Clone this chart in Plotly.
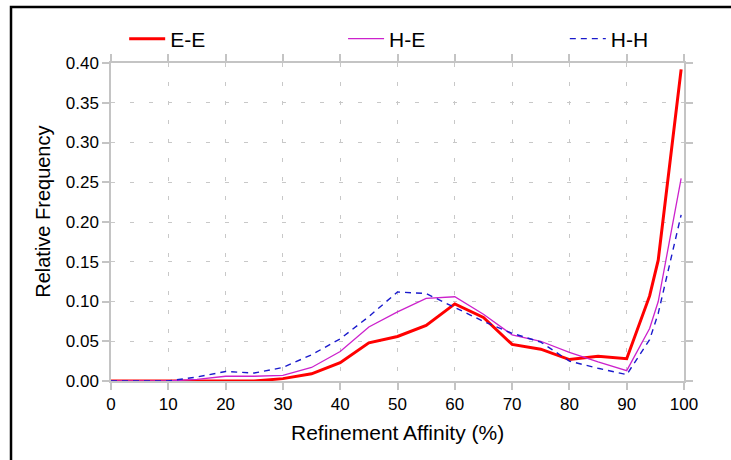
import plotly.graph_objects as go

affinity = [0, 5, 10, 15, 20, 25, 30, 35, 40, 45, 50, 55, 60, 65, 70, 75, 80, 85, 90, 94, 95.5, 99.5]
ee = [0, 0, 0, 0, 0, 0, 0.003, 0.009, 0.023, 0.048, 0.056, 0.070, 0.097, 0.080, 0.046, 0.040, 0.027, 0.031, 0.028, 0.107, 0.152, 0.392]
he = [0, 0, 0, 0.002, 0.006, 0.006, 0.007, 0.017, 0.037, 0.068, 0.087, 0.104, 0.106, 0.084, 0.058, 0.050, 0.036, 0.024, 0.013, 0.066, 0.100, 0.255]
hh = [0, 0, 0, 0.005, 0.012, 0.010, 0.017, 0.033, 0.053, 0.081, 0.112, 0.110, 0.093, 0.075, 0.060, 0.049, 0.025, 0.016, 0.008, 0.052, 0.085, 0.209]

x_ticks = [0, 10, 20, 30, 40, 50, 60, 70, 80, 90, 100]
y_ticks = [0.00, 0.05, 0.10, 0.15, 0.20, 0.25, 0.30, 0.35, 0.40]

FONT = "Liberation Sans, Arial, sans-serif"

fig = go.Figure()
fig.add_trace(go.Scatter(x=affinity, y=ee, mode="lines", name="E-E", legend="legend",
                         line=dict(color="#ff0000", width=3)))
fig.add_trace(go.Scatter(x=affinity, y=he, mode="lines", name="H-E", legend="legend2",
                         line=dict(color="#cc22cc", width=1.3)))
fig.add_trace(go.Scatter(x=affinity, y=hh, mode="lines", name="H-H", legend="legend3",
                         line=dict(color="#1a1acc", width=1.4, dash="6px,5px")))

axis_common = dict(
    showline=True, linecolor="#c4c4c4", linewidth=1.5, mirror="ticks",
    ticks="outside", ticklen=7, tickcolor="#c4c4c4", tickwidth=1.5,
    showgrid=True, gridcolor="#c8c8c8", gridwidth=1, griddash="4px,15px",
    zeroline=False, tickfont=dict(family=FONT, size=17, color="black"),
)

fig.update_xaxes(range=[0, 100], tickvals=x_ticks, ticktext=[str(v) for v in x_ticks], **axis_common)
fig.update_yaxes(range=[0, 0.4], tickvals=y_ticks, ticktext=[f"{v:.2f}" for v in y_ticks], **axis_common)

legend_common = dict(orientation="h", y=1.0755, xanchor="left", yanchor="middle",
                     font=dict(family=FONT, size=21, color="black"),
                     bgcolor="rgba(0,0,0,0)", borderwidth=0, itemwidth=36)

fig.update_layout(
    width=731, height=460,
    margin=dict(l=111, r=47, t=63, b=79, pad=0, autoexpand=False),
    paper_bgcolor="white", plot_bgcolor="white",
    font=dict(family=FONT, color="black"),
    showlegend=True,
    legend=dict(x=0.023, **legend_common),
    legend2=dict(x=0.405, **legend_common),
    legend3=dict(x=0.792, **legend_common),
    annotations=[
        dict(text="Refinement Affinity (%)", xref="paper", yref="paper",
             x=0.5, y=-0.163, xanchor="center", yanchor="middle", showarrow=False,
             font=dict(family=FONT, size=21, color="black")),
        dict(text="Relative Frequency", xref="paper", yref="paper",
             x=-0.1187, y=0.532, xanchor="center", yanchor="middle", showarrow=False,
             textangle=-90, font=dict(family=FONT, size=20, color="black")),
    ],
    shapes=[
        dict(type="rect", xref="paper", yref="paper", x0=-0.1745, y0=-0.4, x1=1.3, y1=1.176,
             line=dict(color="black", width=2.5), fillcolor="rgba(0,0,0,0)", layer="above"),
    ],
)

fig.write_html("out.html", config={"displayModeBar": False},
               post_script="document.body.style.margin='0';")
